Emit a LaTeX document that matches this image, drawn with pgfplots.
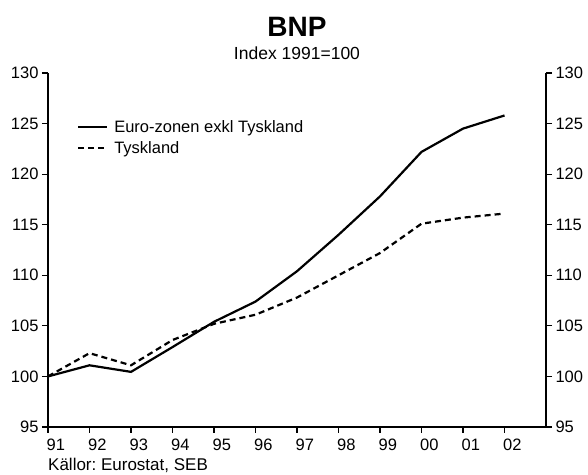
\documentclass[border=0pt]{standalone}
\usepackage{fontspec}
\setmainfont{Liberation Sans}
\usepackage{pgfplots}
\pgfplotsset{compat=1.18}
\frenchspacing

\begin{document}
\begin{tikzpicture}
\pgfplotsset{
  bnp/.style={
    width=498pt, height=354pt, scale only axis,
    xmin=0, xmax=12, ymin=95, ymax=130,
    ytick={95,100,...,130},
    yticklabels={95,100,105,110,115,120,125,130},
    tick align=outside, major tick length=6pt,
    tick style={line width=1.1pt, black},
    axis line style={line width=1.3pt},
    ticklabel style={font=\fontsize{16.5}{18}\selectfont},
    clip=false,
  }}
\begin{axis}[bnp, name=ax,
    axis x line*=bottom, axis y line*=left,
    xtick={0,...,11},
    xticklabels={91,92,93,94,95,96,97,98,99,00,01,02},
    xticklabel style={anchor=north west, inner xsep=0pt, yshift=-2pt, xshift=-1.5pt},
    legend style={draw=none, fill=none, at={(rel axis cs:0.058,0.872)}, anchor=north west,
      font=\fontsize{16.5}{18}\selectfont, inner sep=0pt, row sep=3.5pt,
      /tikz/every odd column/.append style={column sep=4pt}},
    legend cell align=left,
    legend image code/.code={\draw[#1] (0pt,0pt) -- (29pt,0pt);},
    ]
\addplot[line width=2.2pt, black] coordinates {
  (0,100)(1,101.1)(2,100.45)(3,102.9)(4,105.4)(5,107.4)
  (6,110.4)(7,114.0)(8,117.8)(9,122.2)(10,124.5)(11,125.8)};
\addlegendentry{Euro-zonen exkl Tyskland}
\addplot[line width=2.2pt, black, dash pattern=on 6pt off 4pt] coordinates {
  (0,100)(1,102.3)(2,101.1)(3,103.6)(4,105.2)(5,106.1)
  (6,107.8)(7,110.0)(8,112.2)(9,115.1)(10,115.7)(11,116.1)};
\addlegendentry{Tyskland}
\node[anchor=base, font=\bfseries\fontsize{28}{30}\selectfont] at ([yshift=36pt]rel axis cs:0.5,1) {BNP};
\node[anchor=base, font=\fontsize{17.5}{19}\selectfont] at ([yshift=13pt]rel axis cs:0.5,1) {Index 1991=100};
\node[anchor=base west, inner xsep=0pt, font=\fontsize{17}{19}\selectfont] at ([yshift=-44pt]rel axis cs:0,0) {Källor: Eurostat, SEB};
\end{axis}
\begin{axis}[bnp, axis x line=none, axis y line*=right]
\end{axis}
\pgfresetboundingbox
\path ([xshift=-48pt,yshift=-48pt]ax.south west) rectangle ([xshift=42pt,yshift=73pt]ax.north east);
\end{tikzpicture}
\end{document}
